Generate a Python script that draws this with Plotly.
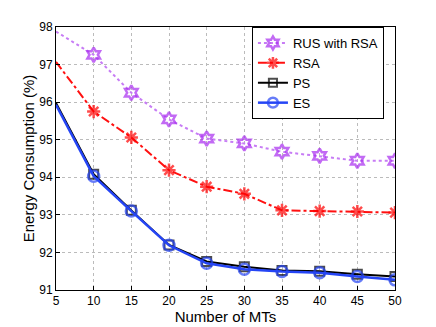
import plotly.graph_objects as go

mts = [5, 10, 15, 20, 25, 30, 35, 40, 45, 50]
rus_with_rsa = [97.88, 97.26, 96.25, 95.54, 95.03, 94.9, 94.68, 94.57, 94.44, 94.44]
rsa = [97.07, 95.75, 95.06, 94.19, 93.75, 93.56, 93.12, 93.1, 93.09, 93.06]
ps = [95.98, 94.08, 93.12, 92.2, 91.76, 91.62, 91.52, 91.5, 91.42, 91.36]
es = [95.93, 94.03, 93.1, 92.19, 91.71, 91.55, 91.49, 91.46, 91.36, 91.27]
x_ticks = [5, 10, 15, 20, 25, 30, 35, 40, 45, 50]
y_ticks = [91, 92, 93, 94, 95, 96, 97, 98]

def sizes(n, s):
    return [0] + [s] * (n - 1)

FONT = "Liberation Sans, Arial, sans-serif"

fig = go.Figure()
fig.add_trace(go.Scatter(
    x=mts, y=rus_with_rsa, name="RUS with RSA", mode="lines+markers",
    line=dict(color="#C77CF5", width=2, dash="dot"),
    marker=dict(symbol="hexagram-open", size=sizes(len(mts), 11), color="#A82BF0",
                line=dict(color="#A82BF0", width=2.5)),
))
fig.add_trace(go.Scatter(
    x=mts, y=rsa, name="RSA", mode="lines+markers",
    line=dict(color="#FF1010", width=2, dash="dashdot"),
    marker=dict(symbol="asterisk-open", size=sizes(len(mts), 11), color="#FF0000",
                line=dict(color="#FF0000", width=2.5)),
))
fig.add_trace(go.Scatter(
    x=mts, y=ps, name="PS", mode="lines+markers",
    line=dict(color="#000000", width=2),
    marker=dict(symbol="square-open", size=sizes(len(mts), 9), color="#000000",
                line=dict(color="#000000", width=2)),
))
fig.add_trace(go.Scatter(
    x=mts, y=es, name="ES", mode="lines+markers",
    line=dict(color="#2545F5", width=2.5),
    marker=dict(symbol="circle-open", size=sizes(len(mts), 11), color="#2545F5",
                line=dict(color="#2545F5", width=2.5)),
))

axis_common = dict(
    showline=True, linecolor="#000000", linewidth=1, mirror=True,
    ticks="inside", ticklen=4, tickcolor="#000000",
    showgrid=True, gridcolor="#BBBBBB", griddash="dot", gridwidth=1,
    zeroline=False, tickfont=dict(family=FONT, size=12, color="#000000"),
)

fig.update_layout(
    width=436, height=327,
    margin=dict(l=48, r=49, t=16, b=45),
    paper_bgcolor="white", plot_bgcolor="white",
    font=dict(family=FONT, color="#000000"),
    showlegend=True,
    legend=dict(
        x=0.578, y=1.0, xanchor="left", yanchor="top",
        bgcolor="white", bordercolor="#000000", borderwidth=1,
        font=dict(family=FONT, size=13, color="#000000"),
        tracegroupgap=0, itemwidth=30,
    ),
    xaxis=dict(axis_common, range=[5, 50], tickvals=x_ticks,
               title=dict(text="Number of MTs", font=dict(family=FONT, size=15), standoff=2)),
    yaxis=dict(axis_common, range=[91, 98], tickvals=y_ticks,
               title=dict(text="Energy Consumption (%)", font=dict(family=FONT, size=15), standoff=0)),
)

fig.write_html("out.html")
